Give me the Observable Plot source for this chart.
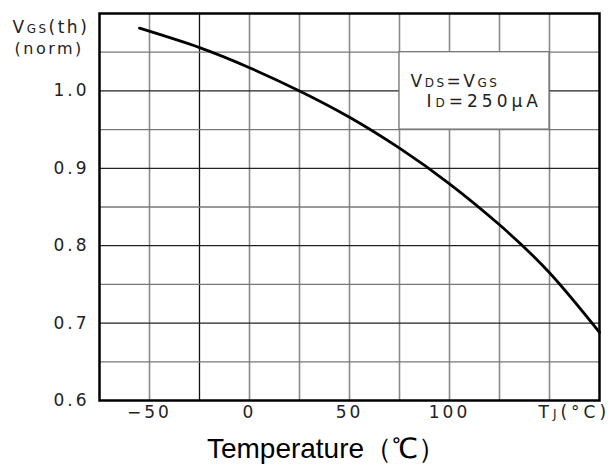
<!DOCTYPE html>
<html>
<head>
<meta charset="utf-8">
<script src="https://cdn.jsdelivr.net/npm/d3@7"></script>
<script src="https://cdn.jsdelivr.net/npm/@observablehq/plot@0.6"></script>
<style>
  html, body { margin: 0; padding: 0; background: #fff; }
  .dv, .dv text, .dv tspan { font-family: "DejaVu Sans", sans-serif; }
  .ls4, .ls4 text { letter-spacing: 4px; }
  .ls3, .ls3 text { letter-spacing: 3px; }
  .ls25, .ls25 text { letter-spacing: 2.5px; }
  .ls2, .ls2 text { letter-spacing: 2px; }
</style>
</head>
<body>
<div id="chart"></div>
<script>
// ---- data ----
const tempC = [-55, -25, 0, 25, 50, 75, 100, 125, 150, 175];
const vgsNorm = [1.081, 1.056, 1.030, 1.000, 0.966, 0.926, 0.880, 0.827, 0.765, 0.688];

const xDomain = [-75, 175];
const yDomain = [0.6, 1.1];
const xTicks = [-50, 0, 50, 100];
const yTicks = [0.6, 0.7, 0.8, 0.9, 1.0];
const xGrid = [-50, -25, 0, 25, 50, 75, 100, 125, 150];
const yGrid = [0.65, 0.7, 0.75, 0.8, 0.85, 0.9, 0.95, 1.0, 1.05];
const xUnitLabel = [{x: 150, text: "T_{J}(°C)"}];
const yTitleLines = ["V_{GS}(th)", "(norm)"];
const xTitle = "Temperature（℃）";
const noteBox = [{x1: 75, x2: 150, y1: 0.95, y2: 1.05}];
const noteLine1 = [{x: 75, y: 1.012, text: "V_{DS}=V_{GS}"}];
const noteLine2 = [{x: 75, y: 0.986, text: "I_{D}=250μA"}];

const data = tempC.map((t, i) => ({t, v: vgsNorm[i]}));

const chart = Plot.plot({
  width: 613,
  height: 468,
  marginLeft: 99,
  marginRight: 14,
  marginTop: 13,
  marginBottom: 68,
  x: {domain: xDomain, axis: null},
  y: {domain: yDomain, axis: null},
  style: {background: "#fff", color: "#111"},
  marks: [
    Plot.ruleX(xGrid, {x: d => d, stroke: d => d === -25 ? "#111" : "#8a8a8a", strokeWidth: d => d === -25 ? 1.3 : 1.6}),
    Plot.ruleY(yGrid, {y: d => d, stroke: d => (Math.round(d * 100) % 10 === 0) ? "#222" : "#777", strokeWidth: 1.3}),
    Plot.rect(noteBox, {x1: "x1", x2: "x2", y1: "y1", y2: "y2", fill: "#fff", stroke: "#777", strokeWidth: 1.3}),
    Plot.line(data, {x: "t", y: "v", curve: "natural", stroke: "#000", strokeWidth: 2.8}),
    Plot.frame({stroke: "#000", strokeWidth: 2.5}),
    Plot.text(yTicks, {y: d => d, frameAnchor: "left", dx: -10, textAnchor: "end", text: d => d.toFixed(1), fontSize: 17, fill: "#222", className: "dv ls3"}),
    Plot.text(xTicks, {x: d => d, frameAnchor: "bottom", dy: 17, text: d => d < 0 ? "−" + Math.abs(d) : String(d), fontSize: 17, fill: "#222", dx: 0, className: "dv ls3"}),
    Plot.text(xUnitLabel, {x: "x", text: "text", frameAnchor: "bottom", dy: 17, dx: -11, textAnchor: "start", fontSize: 17, fill: "#222", className: "dv ls4"}),
    Plot.text([yTitleLines[0]], {text: d => d, frameAnchor: "top-left", dx: -87, dy: 7, textAnchor: "start", fontSize: 17, fill: "#222", className: "dv ls25"}),
    Plot.text([yTitleLines[1]], {text: d => d, frameAnchor: "top-left", dx: -85, dy: 29, textAnchor: "start", fontSize: 16, fill: "#222", className: "dv ls25"}),
    Plot.text(noteLine1, {x: "x", y: "y", text: "text", dx: 11, textAnchor: "start", fontSize: 17, fill: "#222", className: "dv ls25"}),
    Plot.text(noteLine2, {x: "x", y: "y", text: "text", dx: 27, textAnchor: "start", fontSize: 17, fill: "#222", className: "dv ls4"}),
    Plot.text([xTitle], {text: d => d, frameAnchor: "bottom", dx: -23, dy: 57, fontSize: 28, fill: "#000", fontFamily: "Liberation Sans, Arial, sans-serif"})
  ]
});

// convert "_{..}" markers into small-size tspans (baseline-aligned small letters)
d3.select(chart).selectAll("text").each(function() {
  const el = d3.select(this);
  const s = this.textContent;
  if (!s.includes("_{")) return;
  const fs = parseFloat(el.attr("font-size")) || parseFloat(this.parentNode.getAttribute("font-size")) || 16;
  el.text(null);
  const re = /_\{([^}]*)\}/g;
  let last = 0, m;
  while ((m = re.exec(s)) !== null) {
    if (m.index > last) el.append("tspan").text(s.slice(last, m.index));
    el.append("tspan").attr("font-size", Math.round(fs * 0.7)).text(m[1]);
    last = re.lastIndex;
  }
  if (last < s.length) el.append("tspan").text(s.slice(last));
});

document.getElementById("chart").appendChild(chart);
</script>
</body>
</html>
